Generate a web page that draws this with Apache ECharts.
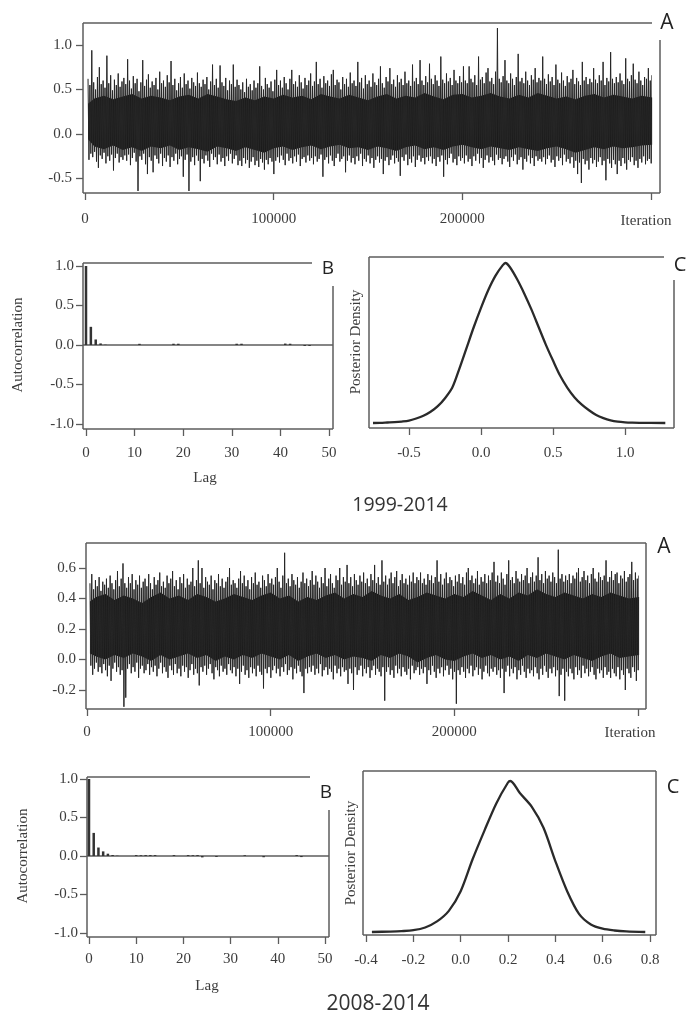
<!DOCTYPE html>
<html><head><meta charset="utf-8">
<script src="https://cdn.jsdelivr.net/npm/echarts@6/dist/echarts.min.js"></script>
<style>html,body{margin:0;padding:0;background:#fff}#c{width:686px;height:1014px}</style>
</head><body><div id="c"></div>
<script>
// ---------- data ----------
// traces: per block of 1000 iterations, the highest and lowest sampled value
const traceStart = 1600, traceBin = 1000;
const trace1High = [
0.62,0.55,0.94,0.58,0.50,0.64,0.75,0.56,0.60,0.52,0.88,0.57,0.66,0.49,0.61,0.55,0.68,0.53,0.59,0.63,
0.56,0.84,0.60,0.51,0.65,0.57,0.62,0.48,0.58,0.83,0.54,0.61,0.67,0.52,0.59,0.55,0.63,0.50,0.70,0.57,
0.60,0.53,0.66,0.58,0.82,0.55,0.62,0.49,0.57,0.64,0.52,0.68,0.56,0.60,0.51,0.63,0.58,0.54,0.69,0.57,
0.53,0.61,0.56,0.64,0.50,0.59,0.78,0.55,0.62,0.52,0.77,0.58,0.54,0.63,0.49,0.60,0.56,0.78,0.53,0.61,
0.55,0.50,0.58,0.47,0.62,0.53,0.56,0.49,0.60,0.52,0.57,0.76,0.54,0.50,0.63,0.56,0.52,0.59,0.48,0.61,
0.72,0.55,0.60,0.52,0.64,0.57,0.50,0.62,0.72,0.56,0.59,0.53,0.66,0.58,0.51,0.63,0.55,0.60,0.68,0.54,
0.59,0.81,0.56,0.62,0.52,0.65,0.57,0.60,0.54,0.67,0.72,0.55,0.61,0.58,0.50,0.64,0.56,0.62,0.53,0.69,
0.57,0.60,0.54,0.81,0.58,0.63,0.51,0.66,0.56,0.60,0.53,0.68,0.58,0.55,0.62,0.76,0.57,0.52,0.64,0.59,
0.74,0.56,0.61,0.53,0.66,0.58,0.62,0.55,0.70,0.57,0.60,0.54,0.78,0.59,0.63,0.56,0.83,0.60,0.55,0.65,
0.58,0.79,0.62,0.56,0.66,0.60,0.54,0.87,0.61,0.57,0.68,0.59,0.63,0.55,0.72,0.60,0.57,0.65,0.58,0.76,
0.60,0.57,0.76,0.62,0.58,0.66,0.55,0.87,0.61,0.64,0.57,0.69,0.74,0.59,0.63,0.56,0.70,1.19,0.62,0.58,
0.65,0.83,0.60,0.57,0.68,0.62,0.55,0.64,0.90,0.59,0.63,0.57,0.70,0.60,0.55,0.66,0.61,0.74,0.58,0.63,
0.60,0.87,0.62,0.56,0.67,0.59,0.64,0.55,0.78,0.61,0.57,0.69,0.60,0.54,0.65,0.58,0.62,0.72,0.56,0.63,
0.59,0.55,0.81,0.60,0.64,0.56,0.62,0.58,0.74,0.61,0.57,0.66,0.60,0.81,0.55,0.63,0.59,0.92,0.62,0.57,
0.64,0.58,0.68,0.60,0.56,0.85,0.62,0.59,0.66,0.79,0.61,0.57,0.70,0.60,0.55,0.64,0.62,0.74,0.60,0.66];
const trace1Low = [
-0.29,-0.22,-0.26,-0.20,-0.31,-0.38,-0.24,-0.28,-0.21,-0.33,-0.25,-0.30,-0.23,-0.41,-0.27,-0.22,-0.32,-0.26,-0.29,-0.24,
-0.30,-0.23,-0.35,-0.27,-0.21,-0.31,-0.64,-0.25,-0.29,-0.22,-0.34,-0.45,-0.26,-0.30,-0.43,-0.24,-0.28,-0.33,-0.22,-0.36,
-0.27,-0.31,-0.24,-0.37,-0.26,-0.30,-0.22,-0.34,-0.28,-0.25,-0.48,-0.29,-0.23,-0.64,-0.31,-0.26,-0.35,-0.24,-0.30,-0.53,
-0.28,-0.33,-0.24,-0.30,-0.37,-0.22,-0.29,-0.26,-0.34,-0.23,-0.31,-0.27,-0.36,-0.25,-0.30,-0.22,-0.33,-0.28,-0.24,-0.35,
-0.30,-0.36,-0.27,-0.33,-0.29,-0.38,-0.31,-0.26,-0.35,-0.30,-0.37,-0.28,-0.32,-0.40,-0.29,-0.34,-0.27,-0.31,-0.45,-0.30,
-0.26,-0.32,-0.24,-0.29,-0.35,-0.22,-0.30,-0.27,-0.33,-0.25,-0.31,-0.23,-0.36,-0.28,-0.26,-0.32,-0.24,-0.30,-0.27,-0.34,
-0.25,-0.31,-0.28,-0.23,-0.48,-0.29,-0.26,-0.33,-0.24,-0.30,-0.36,-0.27,-0.22,-0.31,-0.28,-0.25,-0.43,-0.30,-0.24,-0.32,
-0.27,-0.34,-0.25,-0.30,-0.22,-0.36,-0.28,-0.31,-0.24,-0.33,-0.27,-0.38,-0.29,-0.25,-0.32,-0.28,-0.45,-0.30,-0.26,-0.35,
-0.29,-0.24,-0.33,-0.27,-0.31,-0.47,-0.26,-0.30,-0.23,-0.35,-0.28,-0.32,-0.25,-0.37,-0.29,-0.24,-0.31,-0.27,-0.34,-0.26,
-0.30,-0.25,-0.33,-0.28,-0.36,-0.26,-0.31,-0.24,-0.48,-0.29,-0.34,-0.27,-0.22,-0.32,-0.28,-0.35,-0.25,-0.30,-0.27,-0.33,
-0.24,-0.31,-0.28,-0.36,-0.25,-0.30,-0.22,-0.33,-0.27,-0.38,-0.29,-0.24,-0.32,-0.26,-0.30,-0.35,-0.23,-0.29,-0.27,-0.34,
-0.28,-0.25,-0.31,-0.37,-0.26,-0.30,-0.23,-0.34,-0.29,-0.26,-0.40,-0.28,-0.31,-0.24,-0.33,-0.27,-0.36,-0.25,-0.30,-0.28,
-0.31,-0.26,-0.34,-0.28,-0.24,-0.32,-0.29,-0.37,-0.25,-0.30,-0.27,-0.35,-0.23,-0.31,-0.28,-0.33,-0.26,-0.38,-0.30,-0.45,
-0.32,-0.55,-0.28,-0.34,-0.30,-0.40,-0.27,-0.33,-0.29,-0.37,-0.31,-0.26,-0.35,-0.30,-0.52,-0.28,-0.33,-0.38,-0.29,-0.34,
-0.45,-0.30,-0.36,-0.27,-0.33,-0.40,-0.29,-0.31,-0.26,-0.35,-0.30,-0.38,-0.28,-0.32,-0.25,-0.34,-0.30,-0.28,-0.33,-0.37];
const trace2High = [
0.50,0.56,0.46,0.52,0.48,0.54,0.45,0.51,0.49,0.53,0.47,0.55,0.50,0.46,0.52,0.58,0.48,0.53,0.63,0.50,
0.47,0.54,0.50,0.56,0.46,0.52,0.49,0.55,0.47,0.51,0.53,0.48,0.56,0.50,0.46,0.54,0.49,0.52,0.57,0.48,
0.51,0.47,0.55,0.50,0.53,0.58,0.48,0.52,0.46,0.54,0.50,0.56,0.47,0.53,0.49,0.51,0.60,0.48,0.52,0.65,
0.50,0.60,0.47,0.54,0.51,0.49,0.55,0.46,0.52,0.50,0.56,0.48,0.53,0.47,0.51,0.54,0.60,0.49,0.52,0.50,
0.47,0.53,0.58,0.50,0.55,0.48,0.52,0.46,0.54,0.50,0.57,0.49,0.51,0.47,0.55,0.52,0.48,0.56,0.50,0.53,
0.49,0.54,0.60,0.51,0.47,0.55,0.70,0.50,0.53,0.48,0.56,0.52,0.49,0.54,0.47,0.51,0.57,0.50,0.53,0.48,
0.52,0.58,0.49,0.55,0.51,0.47,0.54,0.50,0.60,0.48,0.53,0.56,0.50,0.47,0.55,0.52,0.60,0.49,0.54,0.51,
0.62,0.50,0.54,0.48,0.56,0.52,0.49,0.55,0.51,0.57,0.50,0.53,0.48,0.56,0.52,0.62,0.50,0.54,0.49,0.65,
0.51,0.55,0.49,0.53,0.57,0.50,0.54,0.58,0.48,0.52,0.56,0.50,0.53,0.49,0.55,0.51,0.57,0.50,0.54,0.52,
0.57,0.50,0.53,0.49,0.56,0.52,0.55,0.50,0.54,0.65,0.51,0.56,0.49,0.53,0.57,0.50,0.54,0.52,0.48,0.55,
0.51,0.56,0.50,0.54,0.49,0.57,0.60,0.52,0.55,0.50,0.53,0.58,0.49,0.54,0.51,0.56,0.50,0.55,0.52,0.57,
0.64,0.51,0.55,0.50,0.57,0.53,0.49,0.56,0.65,0.52,0.54,0.50,0.58,0.53,0.51,0.56,0.52,0.55,0.60,0.50,
0.54,0.57,0.51,0.55,0.67,0.52,0.56,0.50,0.58,0.53,0.55,0.51,0.57,0.54,0.50,0.72,0.53,0.56,0.51,0.55,
0.52,0.56,0.50,0.55,0.53,0.57,0.60,0.51,0.54,0.58,0.52,0.55,0.50,0.56,0.60,0.53,0.51,0.57,0.54,0.52,
0.55,0.65,0.51,0.54,0.58,0.52,0.56,0.57,0.50,0.55,0.53,0.58,0.51,0.54,0.56,0.64,0.52,0.57,0.53,0.55];
const trace2Low = [
-0.04,-0.10,-0.06,-0.02,-0.08,-0.05,-0.09,-0.03,-0.07,-0.11,-0.04,-0.14,-0.06,-0.02,-0.08,-0.05,-0.10,-0.07,-0.31,-0.25,
-0.06,-0.03,-0.09,-0.05,-0.08,-0.02,-0.12,-0.06,-0.04,-0.09,-0.07,-0.03,-0.10,-0.05,-0.08,-0.04,-0.11,-0.06,-0.02,-0.09,
-0.05,-0.08,-0.12,-0.04,-0.07,-0.10,-0.03,-0.09,-0.06,-0.11,-0.04,-0.08,-0.05,-0.12,-0.07,-0.03,-0.10,-0.06,-0.09,-0.17,
-0.05,-0.08,-0.04,-0.10,-0.06,-0.03,-0.09,-0.13,-0.05,-0.07,-0.11,-0.04,-0.08,-0.06,-0.10,-0.03,-0.07,-0.09,-0.05,-0.11,
-0.06,-0.16,-0.08,-0.04,-0.10,-0.07,-0.12,-0.05,-0.09,-0.06,-0.11,-0.04,-0.08,-0.10,-0.19,-0.06,-0.09,-0.05,-0.12,-0.07,
-0.04,-0.09,-0.06,-0.11,-0.05,-0.08,-0.03,-0.10,-0.07,-0.05,-0.13,-0.06,-0.09,-0.04,-0.08,-0.11,-0.22,-0.06,-0.09,-0.05,
-0.08,-0.04,-0.10,-0.06,-0.09,-0.03,-0.11,-0.07,-0.05,-0.10,-0.06,-0.08,-0.13,-0.04,-0.09,-0.06,-0.11,-0.05,-0.08,-0.07,
-0.16,-0.06,-0.09,-0.20,-0.05,-0.10,-0.07,-0.04,-0.11,-0.06,-0.09,-0.05,-0.12,-0.07,-0.04,-0.10,-0.06,-0.08,-0.11,-0.05,
-0.27,-0.08,-0.05,-0.10,-0.07,-0.12,-0.04,-0.09,-0.06,-0.11,-0.05,-0.08,-0.10,-0.06,-0.13,-0.04,-0.09,-0.07,-0.05,-0.10,
-0.06,-0.09,-0.05,-0.16,-0.07,-0.10,-0.04,-0.08,-0.12,-0.06,-0.09,-0.05,-0.11,-0.07,-0.04,-0.10,-0.06,-0.13,-0.08,-0.29,
-0.07,-0.10,-0.05,-0.08,-0.12,-0.06,-0.09,-0.04,-0.11,-0.07,-0.05,-0.10,-0.06,-0.13,-0.08,-0.04,-0.09,-0.11,-0.06,-0.08,
-0.05,-0.10,-0.07,-0.12,-0.06,-0.22,-0.08,-0.04,-0.11,-0.06,-0.09,-0.05,-0.13,-0.07,-0.10,-0.04,-0.08,-0.12,-0.06,-0.09,
-0.07,-0.11,-0.05,-0.09,-0.13,-0.06,-0.10,-0.04,-0.08,-0.12,-0.06,-0.09,-0.05,-0.11,-0.07,-0.24,-0.10,-0.06,-0.27,-0.08,
-0.11,-0.06,-0.09,-0.13,-0.05,-0.10,-0.07,-0.12,-0.04,-0.09,-0.06,-0.11,-0.08,-0.05,-0.10,-0.13,-0.06,-0.09,-0.07,-0.12,
-0.05,-0.10,-0.08,-0.12,-0.06,-0.09,-0.11,-0.05,-0.13,-0.07,-0.10,-0.20,-0.06,-0.09,-0.12,-0.05,-0.08,-0.14,-0.07,-0.10];

// envelope of the solid dark core of each trace (read every ~5000 iterations)
const coreIter = [1600,5000,10000,15000,20000,25000,30000,35000,40000,45000,
50000,55000,60000,65000,70000,75000,80000,85000,90000,95000,
100000,105000,110000,115000,120000,125000,130000,135000,140000,145000,
150000,155000,160000,165000,170000,175000,180000,185000,190000,195000,
200000,205000,210000,215000,220000,225000,230000,235000,240000,245000,
250000,255000,260000,265000,270000,275000,280000,285000,290000,295000,300600];
const core1Top = [0.34,0.40,0.43,0.39,0.42,0.45,0.40,0.43,0.41,0.38,
0.42,0.44,0.40,0.45,0.42,0.39,0.37,0.41,0.38,0.42,
0.40,0.44,0.41,0.43,0.39,0.45,0.42,0.40,0.44,0.41,
0.38,0.42,0.45,0.40,0.43,0.41,0.46,0.42,0.39,0.44,
0.45,0.41,0.43,0.46,0.42,0.40,0.44,0.41,0.46,0.43,
0.40,0.42,0.39,0.43,0.45,0.41,0.44,0.42,0.40,0.43,0.41];
const core1Bot = [-0.06,-0.14,-0.17,-0.13,-0.18,-0.15,-0.19,-0.14,-0.16,-0.13,
-0.18,-0.15,-0.17,-0.20,-0.14,-0.16,-0.19,-0.15,-0.18,-0.21,
-0.16,-0.14,-0.18,-0.15,-0.13,-0.17,-0.14,-0.12,-0.16,-0.15,
-0.18,-0.14,-0.16,-0.19,-0.15,-0.13,-0.17,-0.15,-0.18,-0.14,
-0.12,-0.15,-0.17,-0.14,-0.16,-0.18,-0.15,-0.17,-0.19,-0.16,
-0.14,-0.17,-0.21,-0.18,-0.15,-0.17,-0.14,-0.16,-0.15,-0.13,-0.12];
const core2Top = [0.38,0.41,0.43,0.39,0.42,0.40,0.37,0.41,0.44,0.40,
0.42,0.39,0.43,0.41,0.38,0.40,0.43,0.41,0.39,0.42,
0.44,0.40,0.42,0.38,0.41,0.39,0.42,0.44,0.40,0.43,
0.41,0.45,0.42,0.40,0.43,0.39,0.41,0.44,0.42,0.40,
0.43,0.41,0.45,0.42,0.39,0.43,0.40,0.44,0.42,0.46,
0.43,0.41,0.44,0.42,0.40,0.43,0.41,0.44,0.42,0.40,0.41];
const core2Bot = [0.04,0.02,0.00,0.03,0.01,0.04,0.02,-0.01,0.03,0.00,
0.02,0.04,0.01,0.03,-0.01,0.02,0.00,0.03,0.01,0.04,
0.02,0.00,0.03,-0.01,0.02,0.04,0.01,0.03,0.00,0.02,
0.01,-0.01,0.03,0.01,0.04,0.02,-0.02,0.01,0.03,0.00,
-0.01,0.02,0.04,0.01,0.03,0.00,0.02,-0.01,0.03,0.01,
0.04,0.02,0.00,0.03,0.01,-0.01,0.02,0.04,0.01,0.02,0.03];

const acfLags = Array.from({length: 51}, (_, i) => i);
const acf1 = [1.0,0.23,0.07,0.02,0.004,0,0,0,0,0,
0,0.015,0,0,0,0,0,0,0.016,0.016,
0,0,0,0,0,0,0,0,0,0,
0,0.016,0.016,0,0,0,0,0,0,0,
0,0.018,0.016,0,0,-0.012,-0.012,0,0,0,0];
const acf2 = [1.0,0.30,0.11,0.06,0.03,0.013,0.004,0,0,0,
0.012,0.01,0.012,0.012,0.012,0,0,0,0.012,0,
0,0.012,0.01,0.012,-0.018,0,0,-0.012,0,0,
0,0,0,0.01,0,0,0,-0.016,0,0,
0,0,0,0,0.012,-0.014,0,0,0,0,0];

const dens1X = [-0.75,-0.7,-0.65,-0.6,-0.55,-0.5,-0.45,-0.4,-0.35,-0.3,-0.25,-0.2,-0.15,-0.1,-0.05,0,0.05,0.1,0.15,0.17,0.2,0.25,0.3,0.35,0.4,0.45,0.5,0.55,0.6,0.65,0.7,0.75,0.8,0.85,0.9,0.95,1.0,1.05,1.1,1.28];
const dens1Y = [0,0.001,0.003,0.005,0.009,0.015,0.028,0.045,0.07,0.105,0.155,0.22,0.34,0.47,0.6,0.72,0.83,0.92,0.985,1.0,0.975,0.9,0.81,0.71,0.6,0.49,0.39,0.295,0.22,0.16,0.115,0.08,0.05,0.03,0.016,0.008,0.004,0.002,0.001,0];
const dens2X = [-0.375,-0.3,-0.25,-0.2,-0.15,-0.1,-0.05,0,0.05,0.1,0.15,0.2,0.21,0.25,0.3,0.35,0.4,0.45,0.5,0.55,0.6,0.65,0.7,0.78];
const dens2Y = [0,0.003,0.006,0.012,0.03,0.07,0.14,0.27,0.48,0.67,0.85,0.99,1.0,0.92,0.83,0.69,0.47,0.27,0.12,0.05,0.022,0.01,0.004,0];

const periodLabels = ['1999-2014', '2008-2014'];
const panelLetters = ['A', 'B', 'C'];

// ---------- build ----------
function traceData(hi, lo) {
  const out = [];
  for (let i = 0; i < hi.length; i++) {
    out.push([traceStart + traceBin * i, hi[i]]);
    out.push([traceStart + traceBin * i + traceBin / 2, lo[i]]);
  }
  return out;
}
const pairs = (xs, ys) => xs.map((x, i) => [x, ys[i]]);

const SERIF = '"Liberation Serif","Times New Roman",serif';
const SANS = '"Open Sans","Liberation Sans",sans-serif';
const LBL = '#3c3c3c';
const FRAME = '#5c5c5c';

function xAx(grid, min, max, interval, offset, margin, fmt) {
  return {
    type: 'value', gridIndex: grid, min, max, interval, offset,
    axisLine: {show: false, onZero: false},
    axisTick: {show: true, length: 7, lineStyle: {color: FRAME, width: 1.3}},
    axisLabel: {margin, fontFamily: SERIF, fontSize: 15, color: LBL, formatter: fmt, hideOverlap: false, showMinLabel: true, showMaxLabel: true},
    splitLine: {show: false}
  };
}
function yAx(grid, min, max, interval, offset, margin, show) {
  return {
    type: 'value', gridIndex: grid, min, max, interval, offset,
    axisLine: {show: false, onZero: false},
    axisTick: {show: show, length: 7, lineStyle: {color: FRAME, width: 1.3}},
    axisLabel: {show: show, margin, fontFamily: SERIF, fontSize: 15, color: LBL, formatter: v => v.toFixed(1), showMinLabel: true, showMaxLabel: true},
    splitLine: {show: false}
  };
}
function hiddenAx(grid, min, max) {
  return {type: 'value', gridIndex: grid, min, max, show: false, axisLine: {onZero: false}, splitLine: {show: false}};
}
const f1 = v => v.toFixed(1);
const fIter = v => (v === 300000 ? '' : String(v));
const fInt = v => String(v);

function coreSeries(axisIdx, tops, bots, color) {
  const n = Math.min(coreIter.length, tops.length, bots.length);
  return {
    type: 'custom', xAxisIndex: axisIdx, yAxisIndex: axisIdx, silent: true, clip: false,
    data: [[coreIter[0], tops[0]]],
    renderItem: (params, api) => {
      const pts = [];
      for (let i = 0; i < n; i++) pts.push(api.coord([coreIter[i], tops[i]]));
      for (let i = n - 1; i >= 0; i--) pts.push(api.coord([coreIter[i], bots[i]]));
      return {type: 'polygon', shape: {points: pts}, style: {fill: color}};
    }
  };
}

function seg(x1, y1, x2, y2) {
  return {type: 'line', silent: true, shape: {x1, y1, x2, y2}, style: {stroke: FRAME, lineWidth: 1.5}};
}
function txt(x, y, text, font, color, rot) {
  return {type: 'text', silent: true, x, y, rotation: rot || 0,
    style: {text, font, fill: color, textAlign: 'center', textVerticalAlign: 'middle', align: 'center', verticalAlign: 'middle'}};
}

const graphics = [
  seg(83, 23, 652, 23), seg(83, 23, 83, 193), seg(83, 193, 660, 193), seg(660, 40, 660, 193),
  seg(83, 263, 312, 263), seg(83, 263, 83, 429), seg(83, 429, 333, 429), seg(333, 286, 333, 429),
  seg(369, 257, 664, 257), seg(369, 257, 369, 428), seg(369, 428, 674, 428), seg(674, 280, 674, 428),
  seg(86, 543, 646, 543), seg(86, 543, 86, 709), seg(86, 709, 646, 709), seg(646, 543, 646, 709),
  seg(87, 777, 310, 777), seg(87, 777, 87, 937), seg(87, 937, 329, 937), seg(329, 810, 329, 937),
  seg(363, 771, 656, 771), seg(363, 771, 363, 935), seg(363, 935, 656, 935), seg(656, 771, 656, 935),
  txt(667, 23, panelLetters[0], '21px ' + SANS, '#222'),
  txt(328, 269, panelLetters[1], '19px ' + SANS, '#222'),
  txt(680, 265, panelLetters[2], '20px ' + SANS, '#222'),
  txt(664, 547, panelLetters[0], '21px ' + SANS, '#222'),
  txt(326, 793, panelLetters[1], '19px ' + SANS, '#222'),
  txt(673, 787, panelLetters[2], '20px ' + SANS, '#222'),
  txt(400, 505, periodLabels[0], '19.5px ' + SANS, '#333'),
  txt(378, 1004, periodLabels[1], '21px ' + SANS, '#333'),
  txt(646, 221, 'Iteration', '15px ' + SERIF, LBL),
  txt(630, 733, 'Iteration', '15px ' + SERIF, LBL),
  txt(205, 478, 'Lag', '15px ' + SERIF, LBL),
  txt(207, 986, 'Lag', '15px ' + SERIF, LBL),
  txt(18, 345, 'Autocorrelation', '15px ' + SERIF, LBL, Math.PI / 2),
  txt(23, 856, 'Autocorrelation', '15px ' + SERIF, LBL, Math.PI / 2),
  txt(356, 342, 'Posterior Density', '15px ' + SERIF, LBL, Math.PI / 2),
  txt(351, 853, 'Posterior Density', '15px ' + SERIF, LBL, Math.PI / 2)
];

const option = {
  animation: false,
  backgroundColor: '#fff',
  grid: [
    {left: 85, top: 45, width: 566, height: 133.5},
    {left: 86, top: 266, width: 243, height: 158},
    {left: 409, top: 263, width: 216, height: 160},
    {left: 87, top: 568, width: 551, height: 122},
    {left: 89, top: 779, width: 236, height: 154},
    {left: 366, top: 781, width: 284, height: 151},
    {left: 369, top: 263, width: 305, height: 160}
  ],
  xAxis: [
    xAx(0, 0, 300000, 100000, 14.5, 19, fIter),
    xAx(1, 0, 50, 10, 5, 17, fInt),
    xAx(2, -0.5, 1.0, 0.5, 5, 18, f1),
    xAx(3, 0, 300000, 100000, 19, 16, fIter),
    xAx(4, 0, 50, 10, 4, 15, fInt),
    xAx(5, -0.4, 0.8, 0.2, 3, 18, f1),
    hiddenAx(6, -0.7778, 1.3403)
  ],
  yAxis: [
    yAx(0, -0.5, 1.0, 0.5, 2, 11, true),
    yAx(1, -1, 1, 0.5, 3, 9, true),
    yAx(2, 0, 1, 1, 0, 8, false),
    yAx(3, -0.2, 0.6, 0.2, 1, 10, true),
    yAx(4, -1, 1, 0.5, 2, 9, true),
    yAx(5, 0, 1, 1, 0, 8, false),
    hiddenAx(6, 0, 1)
  ],
  series: [
    coreSeries(0, core1Top, core1Bot, '#151515'),
    {type: 'line', xAxisIndex: 0, yAxisIndex: 0, data: traceData(trace1High, trace1Low), showSymbol: false, symbol: 'none', clip: false,
      lineStyle: {color: '#262626', width: 1.0}},
    {type: 'bar', xAxisIndex: 1, yAxisIndex: 1, data: pairs(acfLags, acf1), barWidth: 2.5, clip: false,
      itemStyle: {color: '#333'}},
    {type: 'line', xAxisIndex: 6, yAxisIndex: 6, data: pairs(dens1X, dens1Y), showSymbol: false, symbol: 'none', clip: false, smooth: 0.3,
      lineStyle: {color: '#2a2a2a', width: 2.3}},
    coreSeries(3, core2Top, core2Bot, '#151515'),
    {type: 'line', xAxisIndex: 3, yAxisIndex: 3, data: traceData(trace2High, trace2Low), showSymbol: false, symbol: 'none', clip: false,
      lineStyle: {color: '#262626', width: 1.0}},
    {type: 'bar', xAxisIndex: 4, yAxisIndex: 4, data: pairs(acfLags, acf2), barWidth: 2.5, clip: false,
      itemStyle: {color: '#333'}},
    {type: 'line', xAxisIndex: 5, yAxisIndex: 5, data: pairs(dens2X, dens2Y), showSymbol: false, symbol: 'none', clip: false, smooth: 0.3,
      lineStyle: {color: '#2a2a2a', width: 2.3}}
  ],
  graphic: graphics
};

const chart = echarts.init(document.getElementById('c'), null, {renderer: 'canvas'});
chart.setOption(option);

const z1 = chart.convertToPixel({gridIndex: 1}, [0, 0]);
const z2 = chart.convertToPixel({gridIndex: 4}, [0, 0]);
chart.setOption({graphic: graphics.concat([seg(83, z1[1], 333, z1[1]), seg(87, z2[1], 329, z2[1])])}, {replaceMerge: ['graphic']});
</script>
</body></html>
